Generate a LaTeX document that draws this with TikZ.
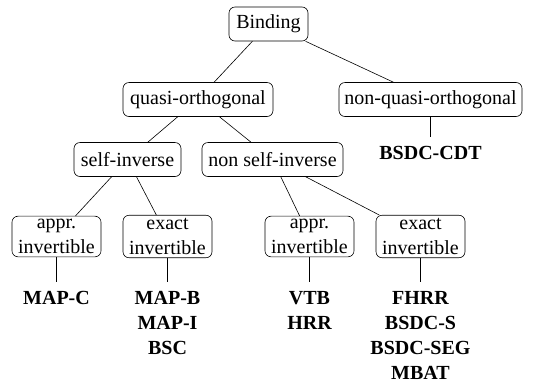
\documentclass[tikz,border=0pt]{standalone}
\usepackage{fontspec}
\setmainfont{Liberation Serif}
\newfontfamily\tms{Liberation Serif}
\begin{document}
\begin{tikzpicture}[x=1bp,y=-1bp,
  cat/.style={draw,rounded corners=6bp,line width=0.6bp,inner xsep=5bp,inner ysep=3bp,minimum height=34bp,align=center,font=\tms\fontsize{20bp}{25bp}\selectfont},
  leaf/.style={anchor=north,inner xsep=0bp,inner ysep=9bp,align=center,font=\tms\fontsize{20bp}{25bp}\selectfont\bfseries},
  edge/.style={line width=0.6bp}]
\useasboundingbox (0,0) rectangle (549,386);
\node[cat,minimum width=79bp] (bind) at (268.5,24) {Binding};
\node[cat,minimum width=150bp] (qo) at (198,99.5) {quasi-orthogonal};
\node[cat,minimum width=183bp] (nqo) at (430.5,99.5) {non-quasi-orthogonal};
\node[cat,minimum width=107bp] (si) at (127.5,159.5) {self-inverse};
\node[cat,minimum width=141bp] (nsi) at (272.5,159.5) {non self-inverse};
\node[cat,minimum width=89bp] (a1) at (56.5,236.5) {appr.\\invertible};
\node[cat,minimum width=89bp] (e1) at (167.5,236.5) {exact\\invertible};
\node[cat,minimum width=89bp] (a2) at (309.5,236.5) {appr.\\invertible};
\node[cat,minimum width=89bp] (e2) at (420.5,236.5) {exact\\invertible};
\node[leaf] (lcdt) at (430.5,137) {BSDC-CDT};
\node[leaf] (la1) at (56.5,282) {MAP-C};
\node[leaf] (le1) at (167.5,282) {MAP-B\\MAP-I\\BSC};
\node[leaf] (la2) at (309.5,282) {VTB\\HRR};
\node[leaf] (le2) at (420.5,282) {FHRR\\BSDC-S\\BSDC-SEG\\MBAT};
\draw[edge] (bind) -- (qo);
\draw[edge] (bind) -- (nqo);
\draw[edge] (qo) -- (si);
\draw[edge] (qo) -- (nsi);
\draw[edge] (si) -- (a1);
\draw[edge] (si) -- (e1);
\draw[edge] (nsi) -- (a2);
\draw[edge] (nsi) -- (e2);
\draw[edge] (nqo.south) -- (lcdt.north);
\draw[edge] (a1.south) -- (la1.north);
\draw[edge] (e1.south) -- (le1.north);
\draw[edge] (a2.south) -- (la2.north);
\draw[edge] (e2.south) -- (le2.north);
\end{tikzpicture}
\end{document}
